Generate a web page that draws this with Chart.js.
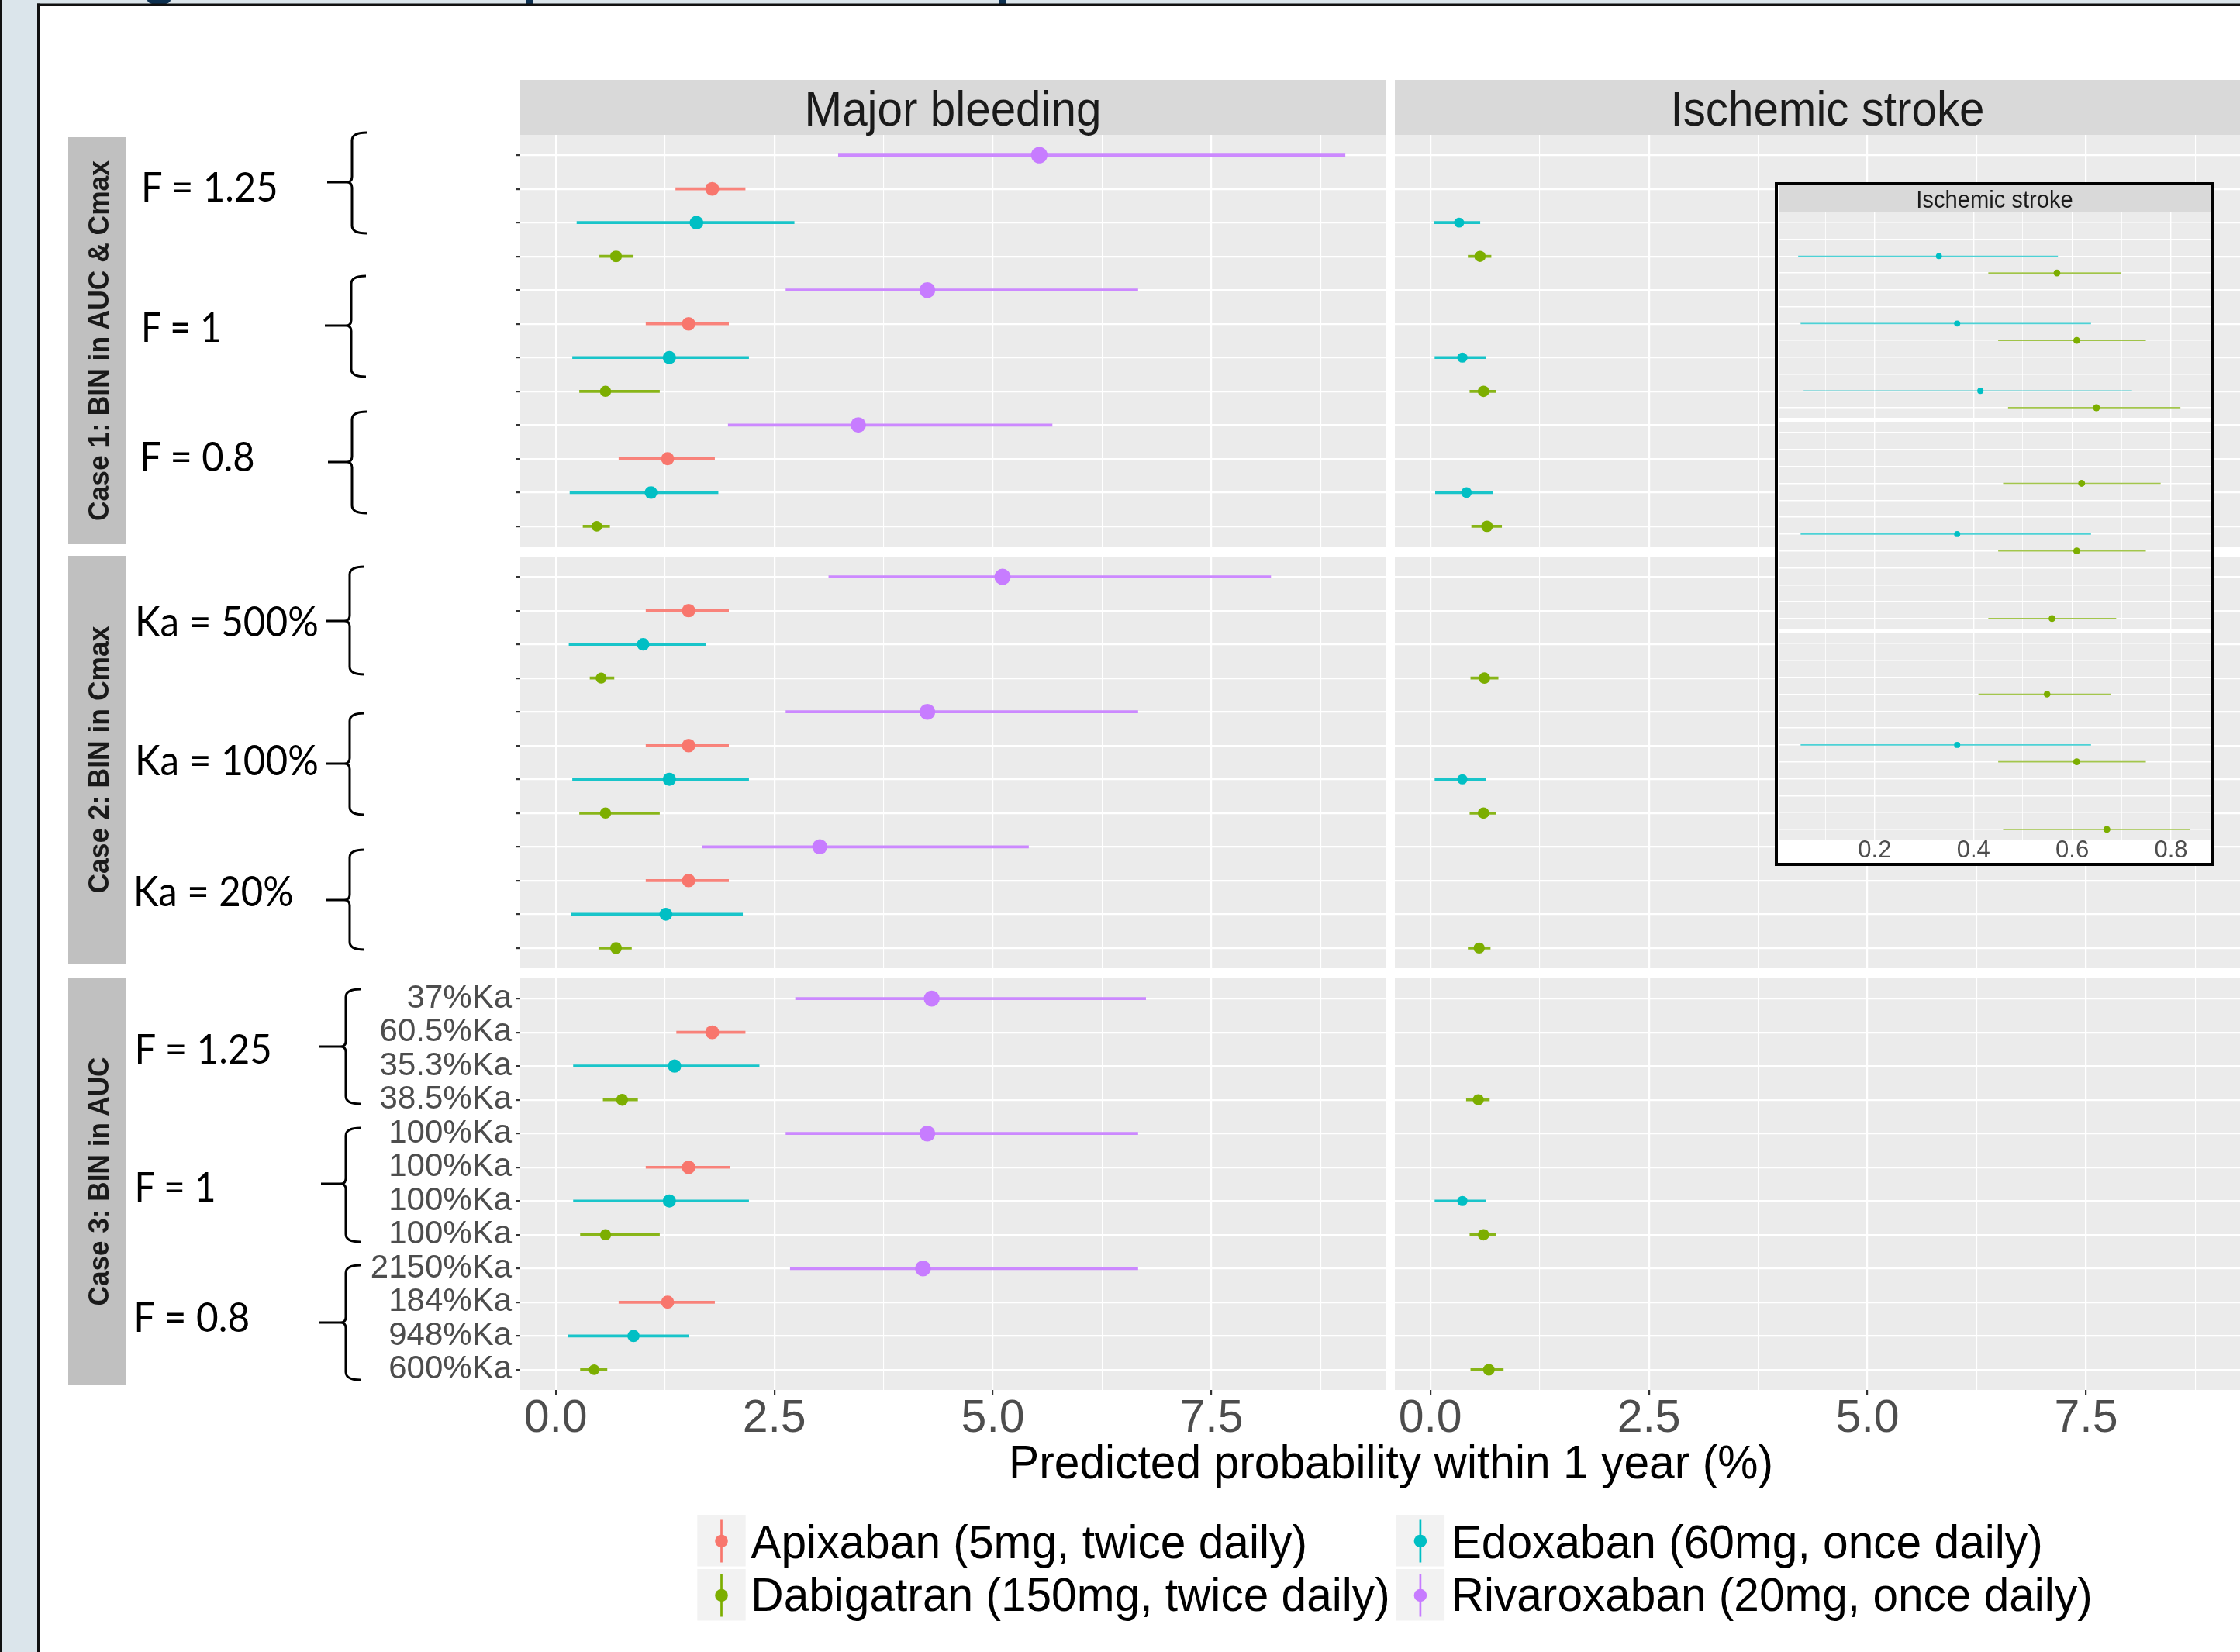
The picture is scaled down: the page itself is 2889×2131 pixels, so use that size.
<!DOCTYPE html>
<html>
<head>
<meta charset="utf-8">
<script src="https://cdn.jsdelivr.net/npm/chart.js@4.4.1/dist/chart.umd.min.js"></script>
<style>
html, body { margin:0; padding:0; background:#fff; }
body { width:2889px; height:2131px; position:relative; overflow:hidden; font-family:"Liberation Sans", Arial, sans-serif; }
.box { position:absolute; }
.box canvas { display:block; }
#inset { position:absolute; left:2289px; top:235px; width:566px; height:882px; box-sizing:border-box;
         border:4px solid #000; background:#fff; z-index:2; }
#ann { position:absolute; left:0; top:0; z-index:5; pointer-events:none; }
</style>
</head>
<body>
<div id="inset"></div>
<svg id="ann" width="2889" height="2131" xmlns="http://www.w3.org/2000/svg"></svg>
<script>
// ── Data ─────────────────────────────────────────────
const DRUGS  = ['Apixaban (5mg, twice daily)', 'Dabigatran (150mg, twice daily)',
                'Edoxaban (60mg, once daily)', 'Rivaroxaban (20mg, once daily)'];
const COLORS = ['#F8766D', '#7CAE00', '#00BFC4', '#C77CFF'];
const ROW_SLOT = [1, 3, 2, 0];          // place of each drug inside a block of 4 rows (0 = top)

const CASES = ['Case 1: BIN in AUC & Cmax', 'Case 2: BIN in Cmax', 'Case 3: BIN in AUC'];
const CONDITIONS = [['F = 1.25', 'F = 1', 'F = 0.8'],
                    ['Ka = 500%', 'Ka = 100%', 'Ka = 20%'],
                    ['F = 1.25', 'F = 1', 'F = 0.8']];
const CASE3_TICKS = ['37%Ka', '60.5%Ka', '35.3%Ka', '38.5%Ka', '100%Ka', '100%Ka',
                     '100%Ka', '100%Ka', '2150%Ka', '184%Ka', '948%Ka', '600%Ka'];
const PANELS = ['Major bleeding', 'Ischemic stroke'];
const X_TITLE = 'Predicted probability within 1 year (%)';

const X_MAJOR  = [0, 2.5, 5, 7.5];
const X_MINOR  = [1.25, 3.75, 6.25, 8.75];
const X_LABELS = ['0.0', '2.5', '5.0', '7.5'];
const INSET_MAJOR  = [0.2, 0.4, 0.6, 0.8];
const INSET_MINOR  = [0.1, 0.3, 0.5, 0.7];
const INSET_LABELS = ['0.2', '0.4', '0.6', '0.8'];

// [estimate, lower, upper] -- 3 conditions of case 1, then case 2, then case 3
const BLEED_APIX = [[1.79,1.37,2.17], [1.52,1.03,1.98], [1.28,0.72,1.82],
                    [1.52,1.03,1.98], [1.52,1.03,1.98], [1.52,1.03,1.98],
                    [1.79,1.38,2.17], [1.52,1.03,1.99], [1.28,0.72,1.82]];
const BLEED_DABI = [[0.69,0.50,0.89], [0.57,0.27,1.19], [0.47,0.31,0.62],
                    [0.52,0.39,0.67], [0.57,0.27,1.19], [0.69,0.49,0.87],
                    [0.76,0.54,0.94], [0.57,0.28,1.19], [0.44,0.28,0.59]];
const BLEED_EDOX = [[1.61,0.24,2.73], [1.30,0.19,2.21], [1.09,0.16,1.86],
                    [1.00,0.15,1.72], [1.30,0.19,2.21], [1.26,0.18,2.14],
                    [1.36,0.20,2.33], [1.30,0.20,2.21], [0.89,0.14,1.52]];
const BLEED_RIVA = [[5.53,3.23,9.03], [4.25,2.63,6.66], [3.46,1.97,5.68],
                    [5.11,3.12,8.18], [4.25,2.63,6.66], [3.02,1.67,5.41],
                    [4.30,2.74,6.75], [4.25,2.63,6.66], [4.20,2.68,6.66]];

const STROKE_APIX = [null, null, null, null, null, null, null, null, null];
const STROKE_DABI = [[0.569,0.43,0.698], [0.609,0.45,0.749], [0.649,0.47,0.819],
                     [0.619,0.46,0.779], [0.609,0.45,0.749], [0.559,0.43,0.689],
                     [0.549,0.41,0.679], [0.609,0.45,0.749], [0.670,0.46,0.838]];
const STROKE_EDOX = [[0.330,0.045,0.571], [0.367,0.05,0.638], [0.414,0.056,0.721],
                     null, [0.367,0.05,0.638], null,
                     null, [0.367,0.05,0.638], null];
const STROKE_RIVA = [null, null, null, null, null, null, null, null, null];

const BLEED  = [BLEED_APIX, BLEED_DABI, BLEED_EDOX, BLEED_RIVA];
const STROKE = [STROKE_APIX, STROKE_DABI, STROKE_EDOX, STROKE_RIVA];
const ROWS = [0,1,2,3,4,5,6,7,8,9,10,11];

// ── Layout ───────────────────────────────────────────
const X_MIN = -0.405, X_MAX = 9.49;
const MAJ_LEFT = 671, ISC_LEFT = 1799, PANEL_W = 1116, PANEL_H = 531;
const ROW_TOP = [174, 718, 1262];
const INSET_LEFT = 2294, INSET_W = 557, INSET_TOP = [274, 545, 817], INSET_H = [265, 266, 266];

Chart.defaults.font.family = '"Liberation Sans", Arial, sans-serif';

function pointR(v) { return Math.max(4.8, 8.1 + 1.5 * Math.log(v)); }
function alpha(hex, a) {
    const n = parseInt(hex.slice(1), 16);
    return `rgba(${n >> 16},${(n >> 8) & 255},${n & 255},${a})`;
}

const panelBg = {
    id: 'panelBg',
    beforeDraw(chart) {
        const { ctx, chartArea: a } = chart;
        ctx.save();
        ctx.fillStyle = '#ebebeb';
        ctx.fillRect(a.left, a.top, a.right - a.left, a.bottom - a.top);
        ctx.restore();
    }
};

function facetSets(series, facet, lineW, rScale, barAlpha) {
    const sets = [];
    series.forEach((arr, d) => {
        const pts = [], bars = [];
        for (let c = 0; c < 3; c++) {
            const v = arr[facet * 3 + c];
            if (!v) continue;
            const row = c * 4 + ROW_SLOT[d];
            pts.push({ x: v[0], y: row });
            bars.push({ y: row, x: [v[1], v[2]] });
        }
        if (!pts.length) return;
        sets.push({
            type: 'scatter', data: pts, order: 0,
            backgroundColor: COLORS[d], borderWidth: 0,
            pointRadius: c => (c.raw ? pointR(c.raw.x) : 6) * rScale
        });
        sets.push({
            type: 'bar', indexAxis: 'y', data: bars, order: 1,
            backgroundColor: alpha(COLORS[d], barAlpha), borderWidth: 0,
            grouped: false, maxBarThickness: lineW
        });
    });
    return sets;
}

function makePanel(cfg) {
    const w = cfg.width + cfg.yAxisW, h = cfg.height + cfg.xAxisH;
    const div = document.createElement('div');
    div.className = 'box';
    Object.assign(div.style, { left: (cfg.left - cfg.yAxisW) + 'px', top: cfg.top + 'px',
                               width: w + 'px', height: h + 'px', zIndex: cfg.z });
    const cv = document.createElement('canvas');
    cv.width = w; cv.height = h;
    cv.style.width = w + 'px'; cv.style.height = h + 'px';
    div.appendChild(cv);
    document.body.appendChild(div);

    const xTicks = cfg.major.concat(cfg.minor).sort((a, b) => a - b);
    const isMajor = v => cfg.major.includes(v);

    new Chart(cv, {
        type: 'scatter',
        data: { datasets: cfg.datasets },
        options: {
            responsive: false, animation: false, devicePixelRatio: 1, events: [],
            layout: { padding: 0, autoPadding: false },
            plugins: { legend: { display: false }, tooltip: { enabled: false } },
            scales: {
                x: {
                    type: 'linear', position: 'bottom', min: cfg.xMin, max: cfg.xMax,
                    offset: false, beginAtZero: false,
                    afterBuildTicks: s => { s.ticks = xTicks.map(v => ({ value: v })); },
                    afterFit: s => { s.height = cfg.xAxisH; s.paddingLeft = s.paddingRight = s.paddingTop = s.paddingBottom = 0; },
                    border: { display: false },
                    grid: {
                        offset: false, color: '#ffffff',
                        lineWidth: c => isMajor(c.tick.value) ? cfg.gridW : cfg.minorW,
                        drawTicks: cfg.xTickLen > 0, tickLength: cfg.xTickLen, tickWidth: cfg.gridW,
                        tickColor: c => isMajor(c.tick.value) ? '#333333' : 'rgba(0,0,0,0)'
                    },
                    ticks: {
                        display: !!cfg.xLabels, autoSkip: false, maxRotation: 0, minRotation: 0,
                        padding: cfg.xPad, color: '#4d4d4d', font: cfg.xFont,
                        callback: v => { const i = cfg.major.indexOf(v); return i >= 0 && cfg.xLabels ? cfg.xLabels[i] : ''; }
                    }
                },
                y: {
                    type: 'linear', min: -0.6, max: 11.6, reverse: true,
                    offset: false, beginAtZero: false,
                    afterBuildTicks: s => { s.ticks = ROWS.map(v => ({ value: v })); },
                    afterFit: s => { s.width = cfg.yAxisW; s.paddingLeft = s.paddingRight = s.paddingTop = s.paddingBottom = 0; },
                    border: { display: false },
                    grid: {
                        offset: false, color: '#ffffff', lineWidth: cfg.gridW,
                        drawTicks: cfg.yTicks, tickLength: 6, tickWidth: cfg.gridW, tickColor: '#333333'
                    },
                    ticks: {
                        display: !!cfg.yLabels, autoSkip: false, padding: 5, color: '#4d4d4d',
                        font: { size: 42, lineHeight: 1 },
                        callback: v => cfg.yLabels ? cfg.yLabels[v] : ''
                    }
                }
            }
        },
        plugins: [panelBg]
    });
}

// ── Panels ───────────────────────────────────────────
for (let f = 0; f < 3; f++) {
    const bottom = f === 2;
    const common = {
        top: ROW_TOP[f], width: PANEL_W, height: PANEL_H,
        xAxisH: bottom ? 95 : 0, xTickLen: bottom ? 6 : 0, xPad: 5,
        xMin: X_MIN, xMax: X_MAX, major: X_MAJOR, minor: X_MINOR,
        xLabels: bottom ? X_LABELS : null, xFont: { size: 59, lineHeight: 0.9 },
        gridW: 2.2, minorW: 1.1, z: 1
    };
    makePanel(Object.assign({}, common, {
        left: MAJ_LEFT, yAxisW: 240, yTicks: true, yLabels: bottom ? CASE3_TICKS : null,
        datasets: facetSets(BLEED, f, 3.7, 1, 0.9)
    }));
    makePanel(Object.assign({}, common, {
        left: ISC_LEFT, yAxisW: 0, yTicks: false, yLabels: null,
        datasets: facetSets(STROKE, f, 3.7, 1, 0.9)
    }));
    // zoomed inset of the stroke panel
    makePanel({
        left: INSET_LEFT, top: INSET_TOP[f], width: INSET_W, height: INSET_H[f],
        yAxisW: 0, yTicks: false, yLabels: null,
        xAxisH: bottom ? 30 : 0, xTickLen: 0, xPad: 1,
        xMin: 0.0055, xMax: 0.88, major: INSET_MAJOR, minor: INSET_MINOR,
        xLabels: bottom ? INSET_LABELS : null, xFont: { size: 31, lineHeight: 0.9 },
        gridW: 1.4, minorW: 0.8, z: 3,
        datasets: facetSets(STROKE, f, 1.7, 0.6, 0.7)
    });
}

// ── Annotations (frame, strips, labels, braces, legend) ──
const svg = document.getElementById('ann');
const NS = 'http://www.w3.org/2000/svg';
function add(tag, attrs, text) {
    const e = document.createElementNS(NS, tag);
    for (const k in attrs) e.setAttribute(k, attrs[k]);
    if (text != null) e.textContent = text;
    svg.appendChild(e);
    return e;
}
function txt(s, x, y, size, len, extra) {
    return add('text', Object.assign({ x, y, 'font-size': size, 'font-family': '"Liberation Sans", Arial, sans-serif',
        textLength: len, lengthAdjust: 'spacingAndGlyphs', fill: '#000' }, extra || {}), s);
}

// page frame and cut-off title
add('rect', { x: 0, y: 0, width: 2889, height: 5, fill: '#dbe5eb' });
add('rect', { x: 3, y: 0, width: 45, height: 2131, fill: '#dbe5eb' });
add('rect', { x: 0, y: 0, width: 3, height: 2131, fill: '#111' });
add('ellipse', { cx: 205, cy: 0, rx: 15, ry: 6.5, fill: '#0d3050' });
add('rect', { x: 679, y: 0, width: 9, height: 5, fill: '#0d3050' });
add('rect', { x: 1289, y: 0, width: 9, height: 5, fill: '#0d3050' });
add('rect', { x: 48, y: 4.5, width: 2841, height: 3.5, fill: '#111' });
add('rect', { x: 48, y: 4.5, width: 3, height: 2127, fill: '#111' });

// column strips
[[MAJ_LEFT, 383], [ISC_LEFT, 405]].forEach(([x0, len], i) => {
    add('rect', { x: x0, y: 103, width: PANEL_W, height: ROW_TOP[0] - 103, fill: '#d9d9d9' });
    txt(PANELS[i], x0 + PANEL_W / 2, 161.7, 63, len, { 'text-anchor': 'middle', fill: '#1a1a1a' });
});

// row strips
const STRIP_Y = [[177, 702], [717, 1243], [1261, 1787]];
const STRIP_LEN = [465, 345, 321];
STRIP_Y.forEach(([y0, y1], i) => {
    add('rect', { x: 88, y: y0, width: 75, height: y1 - y0, fill: '#c0c0c0' });
    txt(CASES[i], 0, 0, 36, STRIP_LEN[i], { 'text-anchor': 'middle', 'font-weight': 'bold', fill: '#1a1a1a',
        transform: `translate(139.5 ${(y0 + y1) / 2}) rotate(-90)` });
});

// condition labels
const LABEL_POS = [
    [[182, 260.3, 176.6], [182, 440.8, 103.2], [180.5, 608.4, 148]],
    [[174, 821.4, 236.8], [174, 1000, 236.8], [172, 1168.6, 206.6]],
    [[173.5, 1372, 177.3], [173.5, 1550, 105], [172.2, 1718, 150]]
];
LABEL_POS.forEach((grp, i) => grp.forEach(([x, y, len], c) => {
    txt(CONDITIONS[i][c], x, y, i === 1 ? 53.7 : 51.5, len, { 'font-family': 'Lato, "Liberation Sans", sans-serif' });
}));

// braces: [line x, top, bottom, middle, dash start]
const BRACES = [
    [454, 171, 301, 235, 422], [453, 356, 486, 420, 419], [454, 531, 662, 596, 423],
    [451, 731, 870, 801, 420], [451, 920, 1051, 985, 420], [451, 1096, 1225, 1161, 420],
    [446, 1276, 1424, 1350, 411], [446, 1455, 1602, 1527, 414], [446, 1632, 1780, 1706, 411]
];
BRACES.forEach(([x, t, b, m, d]) => {
    const hk = 19;
    add('path', { d: `M${x + hk},${t} Q${x},${t} ${x},${t + 10} L${x},${m - 7} Q${x},${m} ${x - 7},${m} ` +
                     `Q${x},${m} ${x},${m + 7} L${x},${b - 10} Q${x},${b} ${x + hk},${b}`,
                  fill: 'none', stroke: '#000', 'stroke-width': 3 });
    add('line', { x1: d, y1: m, x2: x - 7, y2: m, stroke: '#000', 'stroke-width': 3 });
});

// x axis title
txt(X_TITLE, 1794, 1906.7, 62, 986, { 'text-anchor': 'middle' });

// legend (filled column-wise)
const LEG_X = [[899.3, 968.3], [1800.7, 1871.7]];
const LEG_Y = [[1954, 2010], [2024, 2078.3]];
const LEG_LEN = [717.7, 824.4, 763, 827];
DRUGS.forEach((name, d) => {
    const [bx, tx] = LEG_X[Math.floor(d / 2)];
    const [by, ty] = LEG_Y[d % 2];
    const cx = bx + 31.2, cy = by + 34;
    add('rect', { x: bx, y: by, width: 62.4, height: 66.5, fill: '#f2f2f2' });
    add('line', { x1: cx, y1: by + 6.5, x2: cx, y2: by + 61.5, stroke: COLORS[d], 'stroke-width': 2.7 });
    add('circle', { cx, cy, r: 8.3, fill: COLORS[d] });
    txt(name, tx, ty, 60.5, LEG_LEN[d]);
});

// inset strip
add('rect', { x: INSET_LEFT, y: 239, width: INSET_W, height: INSET_TOP[0] - 239, fill: '#d9d9d9' });
txt(PANELS[1], INSET_LEFT + INSET_W / 2, 268, 31, 202.5, { 'text-anchor': 'middle', fill: '#1a1a1a' });
</script>
</body>
</html>
